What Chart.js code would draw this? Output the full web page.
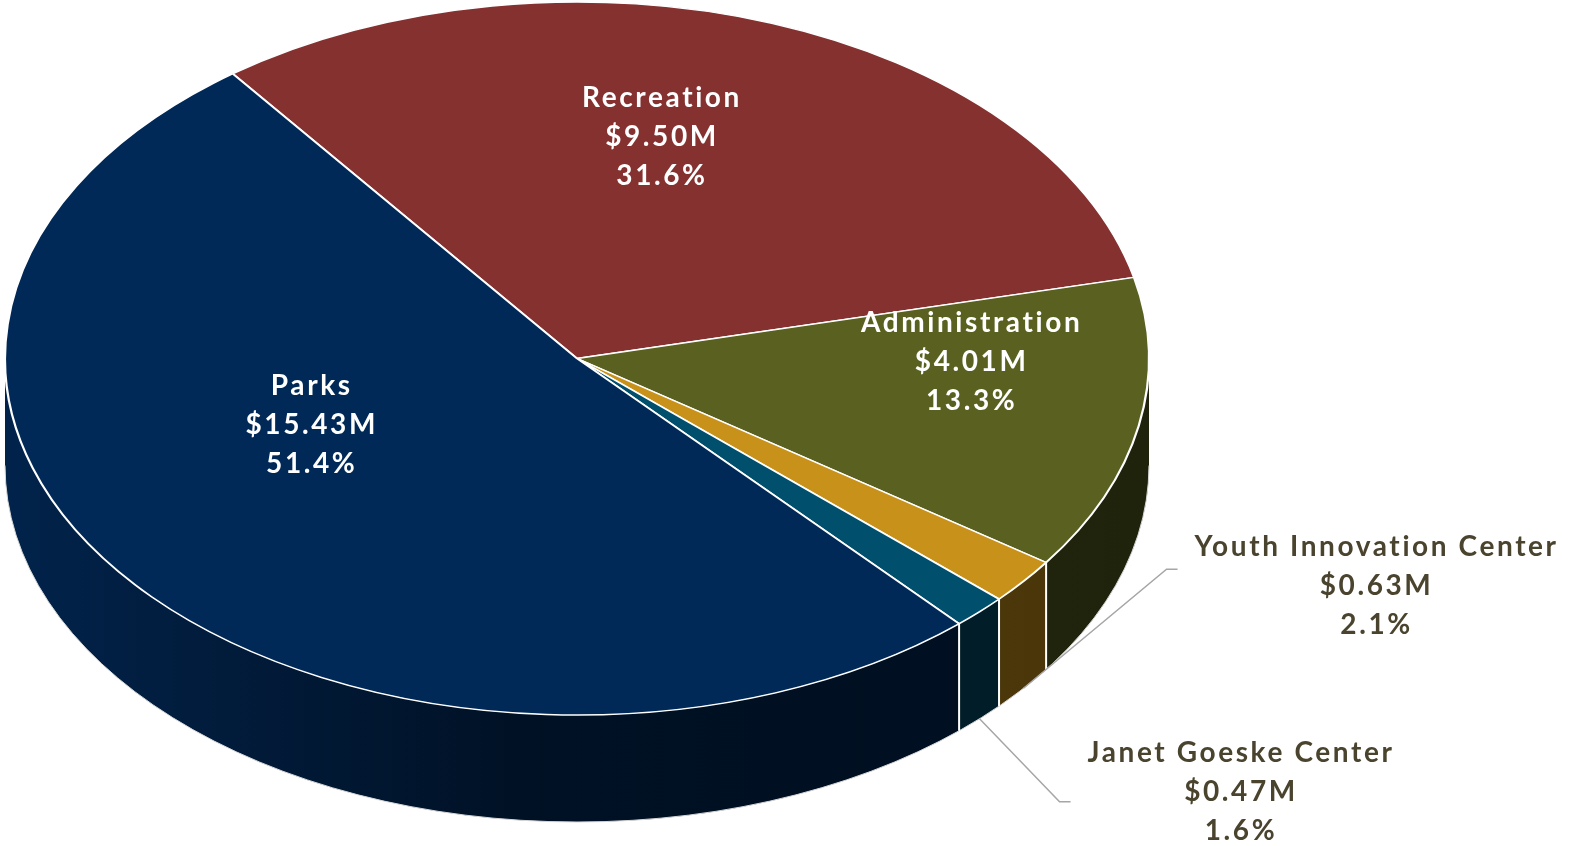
<!DOCTYPE html>
<html>
<head>
<meta charset="utf-8">
<title>Budget by Division</title>
<script src="https://cdn.jsdelivr.net/npm/chart.js@4.4.1/dist/chart.umd.min.js"></script>
<style>
  html, body { margin: 0; padding: 0; background: #ffffff; }
  #wrap { width: 1570px; height: 846px; }
</style>
</head>
<body>
<div id="wrap"><canvas id="budgetPie" width="1570" height="846"></canvas></div>
<script>
// divisions, clockwise from the top-left edge of the pie
const divisions = ["Recreation", "Administration", "Youth Innovation Center", "Janet Goeske Center", "Parks"];
const budgetMillions = [9.50, 4.01, 0.63, 0.47, 15.43];
const sliceColors = ["#843130", "#5a6120", "#c8921a", "#004f6d", "#012957"];

// where each label sits: inside labels use a radius fraction and a turn (deg)
// from the slice middle, outside ones get a leader line
const labelSpots = [
  { frac: 0.64, turn: -6.5 },
  { frac: 0.69, turn: -10 },
  { leader: [143, -119], textDy: 17 },
  { leader: [80, 83], textDy: -10 },
  { frac: 0.5, turn: 17.5 }
];

const total = budgetMillions.reduce((a, b) => a + b, 0);
const DEPTH = 107;
const FONT = "bold 28px Lato, 'Open Sans', sans-serif";
const LINE_H = 39;

function shade(hex, f) {
  const n = parseInt(hex.slice(1), 16);
  const r = Math.round(((n >> 16) & 255) * f);
  const g = Math.round(((n >> 8) & 255) * f);
  const b = Math.round((n & 255) * f);
  return "rgb(" + r + "," + g + "," + b + ")";
}

// ellipse that the flat pie gets squashed into
function tiltGeom(chart) {
  const arc = chart.getDatasetMeta(0).data[0];
  const a = chart.chartArea;
  return {
    cx: arc.x,
    cy: arc.y,
    rx: (a.right - a.left) / 2,
    ry: (a.bottom - a.top) / 2,
    r: arc.outerRadius
  };
}

// front-facing parts of an angle span (where the rim is visible)
function frontParts(s, e) {
  const out = [];
  const T = Math.PI * 2;
  for (let k = Math.floor(s / T) - 1; k <= Math.ceil(e / T); k++) {
    const a = Math.max(s, k * T), b = Math.min(e, k * T + Math.PI);
    if (b > a) out.push([a, b]);
  }
  return out;
}

const tiltPlugin = {
  id: "tilt",
  beforeDatasetsDraw(chart) {
    const ctx = chart.ctx;
    const g = tiltGeom(chart);
    const arcs = chart.getDatasetMeta(0).data;

    // rim of the pie
    arcs.forEach((arc, i) => {
      const base = sliceColors[i];
      const grad = ctx.createLinearGradient(g.cx - g.rx, 0, g.cx + g.rx, 0);
      grad.addColorStop(0, shade(base, 0.86));
      grad.addColorStop(0.25, shade(base, 0.62));
      grad.addColorStop(0.45, shade(base, 0.42));
      grad.addColorStop(1, shade(base, 0.36));
      frontParts(arc.startAngle, arc.endAngle).forEach(([a, b]) => {
        ctx.beginPath();
        ctx.ellipse(g.cx, g.cy, g.rx, g.ry, 0, a, b);
        ctx.ellipse(g.cx, g.cy + DEPTH, g.rx, g.ry, 0, b, a, true);
        ctx.closePath();
        ctx.fillStyle = grad;
        ctx.fill();
      });
    });

    // bottom outline of the rim
    ctx.beginPath();
    ctx.ellipse(g.cx, g.cy + DEPTH, g.rx, g.ry, 0, 0, Math.PI);
    ctx.strokeStyle = "#d6d6d6";
    ctx.lineWidth = 1;
    ctx.stroke();

    // white seams where slices meet on the rim
    ctx.strokeStyle = "#ffffff";
    ctx.lineWidth = 2;
    arcs.forEach(arc => {
      const t = arc.endAngle;
      if (Math.sin(t) > 0) {
        const x = g.cx + g.rx * Math.cos(t);
        const y = g.cy + g.ry * Math.sin(t);
        ctx.beginPath();
        ctx.moveTo(x, y);
        ctx.lineTo(x, y + DEPTH);
        ctx.stroke();
      }
    });

    // squash the flat pie into the top ellipse
    ctx.save();
    ctx.translate(g.cx, g.cy);
    ctx.scale(g.rx / g.r, g.ry / g.r);
    ctx.translate(-g.cx, -g.cy);
  },
  afterDatasetsDraw(chart) {
    chart.ctx.restore();
  },
  afterDraw(chart) {
    const ctx = chart.ctx;
    const g = tiltGeom(chart);
    const arcs = chart.getDatasetMeta(0).data;
    ctx.save();
    ctx.font = FONT;
    ctx.letterSpacing = "2.6px";
    ctx.textAlign = "center";
    ctx.textBaseline = "middle";
    arcs.forEach((arc, i) => {
      const v = budgetMillions[i];
      const lines = [divisions[i], "$" + v.toFixed(2) + "M", (v / total * 100).toFixed(1) + "%"];
      const spot = labelSpots[i];
      const mid = (arc.startAngle + arc.endAngle) / 2;
      let x, y;
      if (spot.leader) {
        const sx = g.cx + g.rx * Math.cos(mid);
        const sy = g.cy + g.ry * Math.sin(mid) + DEPTH;
        const ex = sx + spot.leader[0], ey = sy + spot.leader[1];
        ctx.beginPath();
        ctx.moveTo(sx, sy);
        ctx.lineTo(ex, ey);
        ctx.lineTo(ex + 11, ey);
        ctx.strokeStyle = "#a6a6a6";
        ctx.lineWidth = 1.5;
        ctx.stroke();
        const w = Math.max(...lines.map(s => ctx.measureText(s).width));
        x = ex + 28 + w / 2;
        y = ey + spot.textDy;
        ctx.fillStyle = "#4a442f";
      } else {
        const t = mid + spot.turn * Math.PI / 180;
        x = g.cx + g.rx * spot.frac * Math.cos(t);
        y = g.cy + g.ry * spot.frac * Math.sin(t);
        ctx.fillStyle = "#ffffff";
      }
      lines.forEach((s, k) => ctx.fillText(s, x, y + (k - 1) * LINE_H));
    });
    ctx.restore();
  }
};

new Chart(document.getElementById("budgetPie"), {
  type: "pie",
  data: {
    labels: divisions,
    datasets: [{
      data: budgetMillions,
      backgroundColor: sliceColors,
      borderColor: "#ffffff",
      borderWidth: 1.4
    }]
  },
  options: {
    responsive: false,
    animation: false,
    rotation: -37,
    layout: { padding: { left: 5, right: 421, top: 2, bottom: 131 } },
    plugins: {
      legend: { display: false },
      tooltip: { enabled: false }
    }
  },
  plugins: [tiltPlugin]
});
</script>
</body>
</html>
